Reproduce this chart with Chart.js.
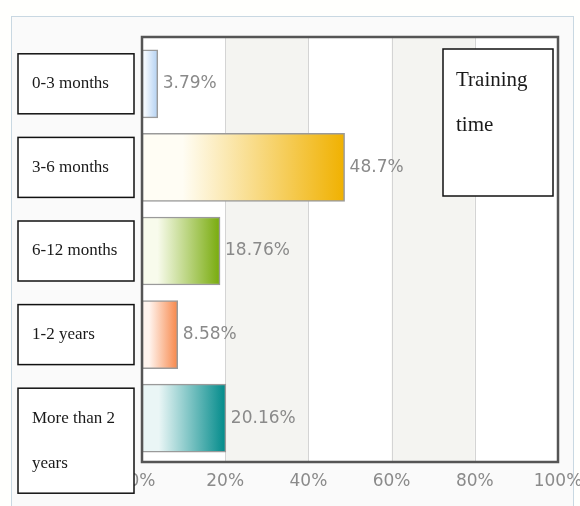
<!DOCTYPE html>
<html>
<head>
<meta charset="utf-8">
<script src="https://cdn.jsdelivr.net/npm/chart.js@4"></script>
<style>
  html, body { margin: 0; padding: 0; background: #fffffd; }
  #panel {
    position: absolute; left: 11px; top: 16px; width: 561px; height: 500px;
    border: 1px solid #c9d8e2; background: #fafafa;
  }
  #wrap { position: absolute; left: 0; top: 0; width: 580px; height: 506px; }
</style>
</head>
<body>
<div id="panel"></div>
<div id="wrap"><canvas id="chart"></canvas></div>
<script>
// Data
const categories = [["0-3 months"], ["3-6 months"], ["6-12 months"], ["1-2 years"], ["More than 2", "years"]];
const shares = [3.79, 48.7, 18.76, 8.58, 20.16];
const shareLabels = ["3.79%", "48.7%", "18.76%", "8.58%", "20.16%"];
const xTicks = [0, 20, 40, 60, 80, 100];
const titleLines = ["Training", "time"];

// bar gradient stops: light on the left, full colour at the bar end
const barStart = ["#f3f8fe", "#fffdf4", "#f8fbec", "#fff4ee", "#eaf6f6"];
const barEnd = ["#b3d1f2", "#f0b100", "#78ab0c", "#f7874a", "#008a8a"];

function barFill(ctx) {
    const chart = ctx.chart;
    const i = ctx.dataIndex;
    if (!chart.chartArea) return barEnd[i];
    const xs = chart.scales.x;
    const x0 = xs.getPixelForValue(0);
    const x1 = xs.getPixelForValue(shares[i]);
    const g = chart.ctx.createLinearGradient(x0, 0, x1, 0);
    g.addColorStop(0, barStart[i]);
    g.addColorStop(0.2, barStart[i]);
    g.addColorStop(1, barEnd[i]);
    return g;
}

// plot background, bands and grid lines behind the bars
const backdrop = {
    id: "backdrop",
    beforeDatasetsDraw(chart) {
        const { ctx, chartArea: a, scales: { x } } = chart;
        const top = a.top - 5, bottom = a.bottom + 2;
        ctx.save();
        ctx.fillStyle = "#ffffff";
        ctx.fillRect(a.left, top, a.right - a.left, bottom - top);
        ctx.fillStyle = "#f4f4f1";
        [[20, 40], [60, 80]].forEach(([p, q]) => {
            const l = x.getPixelForValue(p), r = x.getPixelForValue(q);
            ctx.fillRect(l, top, r - l, bottom - top);
        });
        ctx.strokeStyle = "#d4d4d4";
        ctx.lineWidth = 1;
        xTicks.slice(1, -1).forEach(v => {
            const px = Math.round(x.getPixelForValue(v)) + 0.5;
            ctx.beginPath();
            ctx.moveTo(px, top);
            ctx.lineTo(px, bottom);
            ctx.stroke();
        });
        ctx.restore();
    },
    afterDatasetsDraw(chart) {
        const { ctx, chartArea: a } = chart;
        const meta = chart.getDatasetMeta(0);
        ctx.save();
        ctx.fillStyle = "#8a8a8a";
        ctx.font = "17px 'DejaVu Sans'";
        ctx.textBaseline = "middle";
        meta.data.forEach((bar, i) => {
            ctx.fillText(shareLabels[i], bar.x + 5, bar.y);
        });
        ctx.strokeStyle = "#555";
        ctx.lineWidth = 2.5;
        ctx.strokeRect(a.left, a.top - 5, a.right - a.left, a.bottom - a.top + 7);
        ctx.restore();
    },
    afterDraw(chart) {
        const { ctx, scales: { y } } = chart;
        ctx.save();
        ctx.lineWidth = 1.5;
        ctx.strokeStyle = "#111";
        ctx.textBaseline = "middle";
        ctx.font = "17px 'Liberation Serif'";
        categories.forEach((lines, i) => {
            const cy = y.getPixelForValue(i);
            const top = cy - 30;
            const h = 60 + (lines.length - 1) * 45;
            ctx.fillStyle = "#fff";
            ctx.fillRect(18, top, 116, h);
            ctx.strokeRect(18, top, 116, h);
            ctx.fillStyle = "#1a1a1a";
            lines.forEach((t, k) => ctx.fillText(t, 32, cy + k * 45));
        });
        // title box
        ctx.fillStyle = "#fff";
        ctx.fillRect(443, 49, 110, 147);
        ctx.strokeRect(443, 49, 110, 147);
        ctx.fillStyle = "#1a1a1a";
        ctx.font = "21px 'Liberation Serif'";
        titleLines.forEach((t, k) => ctx.fillText(t, 456, 80 + k * 45));
        ctx.restore();
    }
};

new Chart(document.getElementById("chart"), {
    type: "bar",
    data: {
        labels: categories.map(c => c.join(" ")),
        datasets: [{
            data: shares,
            backgroundColor: barFill,
            borderColor: "#9a9a9a",
            borderWidth: 1.5,
            borderSkipped: false,
            barThickness: 68
        }]
    },
    options: {
        indexAxis: "y",
        responsive: true,
        maintainAspectRatio: false,
        animation: false,
        layout: { padding: { left: 142, right: 22, top: 42, bottom: 0 } },
        plugins: { legend: { display: false }, tooltip: { enabled: false } },
        scales: {
            x: {
                min: 0, max: 100,
                afterBuildTicks: s => { s.ticks = xTicks.map(v => ({ value: v })); },
                afterFit: s => { s.height = 46; s.paddingRight = 0; s.paddingLeft = 0; },
                grid: { display: false },
                border: { display: false },
                ticks: {
                    callback: v => v + "%",
                    color: "#8a8a8a",
                    font: { family: "'DejaVu Sans'", size: 17 },
                    padding: 3,
                    maxRotation: 0
                }
            },
            y: { display: false }
        }
    },
    plugins: [backdrop]
});
</script>
</body>
</html>
